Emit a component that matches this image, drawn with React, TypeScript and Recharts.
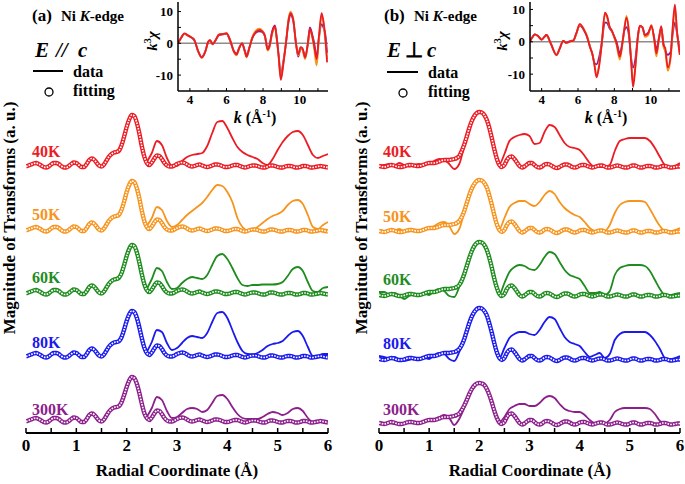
import React from 'react';
import { LineChart, Line, XAxis, YAxis, ReferenceLine } from 'recharts';

const SERIF = '"Liberation Serif", "Times New Roman", serif';
const TEMPS = ['40K', '50K', '60K', '80K', '300K'];
const COLORS = ['#ec1c24', '#f7941d', '#1e8c1e', '#1a1aee', '#8c1f8c'];

// radial grids (Å)
const R_FIT = Array.from({ length: 121 }, (_, i) => +(i * 0.05).toFixed(2));
const R_DATA_A = Array.from({ length: 37 }, (_, i) => +(2.4 + i * 0.1).toFixed(1));
const R_DATA_B = Array.from({ length: 61 }, (_, i) => +(i * 0.1).toFixed(1));
const R_TICKS = [0, 0.5, 1, 1.5, 2, 2.5, 3, 3.5, 4, 4.5, 5, 5.5, 6];
const K_TICKS = [4, 5, 6, 7, 8, 9, 10, 11];

// stacking offsets (a.u.)
const OFFSET_A = [265, 201, 138, 75, 10];
const OFFSET_B = [265, 200, 136, 72, 8];

// (a) E // c fitting: 0-1.80, peak 1.85-2.40 per temperature, 2.45-6.00
const FIT_A_LOW = [
  1.5, 2.5, 3.5, 4.5, 5, 4, 2.5, 1, 0.5, 1.5,
  3.5, 5, 5, 4, 2, 0.5, 0.5, 2, 4, 5.5,
  5, 3, 1, 1, 3.5, 7.5, 9.5, 8.5, 5.5, 2.5,
  1.5, 3.5, 7.5, 11.5, 14, 15.5, 16,
];
const FIT_A_PEAK_40 = [17.5, 23, 31.5, 41, 48.5, 53, 52, 45.5, 35, 22, 11.5, 5];
const FIT_A_PEAK_50 = [17.5, 22.5, 30.5, 40, 47, 51, 50, 44, 34, 21.5, 11, 5];
const FIT_A_PEAK_60 = [17.5, 22, 30, 39, 46, 50, 49, 43, 33, 21, 11, 5];
const FIT_A_PEAK_80 = [17, 21, 28.5, 37, 43.5, 47, 46, 40.5, 31, 20, 10.5, 5];
const FIT_A_PEAK_300 = [17, 21, 28, 36, 42.5, 46, 45, 39.5, 30.5, 19.5, 10, 5];
const FIT_A_TAIL = [
  3,
  5.5, 9.5, 12.5, 12, 9, 5, 2.5, 1.5, 1.5, 2.5,
  4, 5, 5.5, 5, 3.5, 2, 1.5, 2, 3, 3.5,
  2.5, 1.5, 1, 1.5, 2.5, 3.5, 3.5, 3, 2, 1,
  1, 1.5, 2.5, 3, 3, 2, 1, 0.5, 1, 2,
  2.5, 2.5, 2, 1, 0.5, 0.5, 1.5, 2.5, 2.5, 2,
  1, 0.5, 0.5, 1.5, 2, 2, 1.5, 0.5, 0.5, 1,
  2, 2, 1.5, 0.5, 0.5, 1, 1.5, 2, 1.5, 1,
  0.5,
];

// (a) data, 2.4-6.0 (below 2.4 it lies under the fit)
const DATA_A_40 = [6, 15, 27, 23, 10, 2, 2, 7, 11, 13, 14, 15, 22, 35, 46, 47, 40, 30, 21, 16, 13, 11, 9, 5, 3, 9, 18, 26, 32, 36, 37, 33, 23, 13, 10, 12, 14];
const DATA_A_50 = [6, 14, 25, 22, 11, 5, 7, 12, 17, 21, 25, 29, 35, 42, 47, 46, 40, 30, 14, 5, 2, 2, 5, 9, 13, 16, 18, 21, 27, 31, 32, 28, 17, 5, 3, 7, 10];
const DATA_A_60 = [6, 16, 27, 24, 13, 6, 7, 12, 16, 18, 17, 16, 20, 30, 39, 41, 36, 27, 17, 10, 9, 10, 10, 10.5, 10.5, 10.5, 11, 13, 19, 26, 28, 24, 13, 4, 3, 7, 8];
const DATA_A_80 = [6, 16, 28, 26, 15, 8, 10, 15, 20, 22, 21, 20, 25, 36, 45, 46, 40, 28, 16, 7, 4, 3.5, 5, 8, 12, 14, 15, 17, 22, 26, 27, 22, 11, 2, 2, 4, 4];
const DATA_A_300 = [6, 15, 26, 23, 12, 5, 6, 10, 14, 15, 14, 11, 13, 20, 27, 28, 24, 16, 9, 5, 4, 4, 4, 6, 9, 11, 10, 8, 10, 14, 15, 12, 5, 1, 1, 1, 1];

// (b) E ⊥ c fitting: 0-1.55, peak 1.60-2.40 per temperature, 2.45-6.00
const FIT_B_LOW = [
  2, 1.5, 1, 1.5, 2.5, 3, 2.5, 1.5, 1, 1,
  1.5, 2.5, 3, 3, 2.5, 2, 2, 2.5, 3.5, 4.5,
  5, 5, 5, 5.5, 6.5, 7.5, 8, 8, 8, 8.5,
  9, 10,
];
const FIT_B_PEAK_40 = [12, 17, 23.5, 31.5, 40, 47, 52, 55, 56, 55.5, 53, 48, 40, 29.5, 18.5, 9, 3];
const FIT_B_PEAK_50 = [12, 16, 22, 30, 38, 44.5, 49, 52, 53, 52.5, 50, 45.5, 37.5, 28, 17.5, 8.5, 3];
const FIT_B_PEAK_60 = [12, 16.5, 23, 31, 39, 46, 51, 54, 55, 54.5, 52, 47, 39, 29, 18, 9, 3];
const FIT_B_PEAK_80 = [12, 16, 22, 30, 38, 44.5, 49, 52, 53, 52.5, 50, 45.5, 37.5, 28, 17.5, 8.5, 3];
const FIT_B_PEAK_300 = [11.5, 15, 19.5, 25, 31, 36, 39.5, 41.5, 42, 41.5, 40, 36, 30, 22.5, 14, 7, 2.5];
const FIT_B_TAIL = [
  1,
  3, 8, 11, 11.5, 9, 5.5, 2, 0.5, 1.5, 3.5,
  5, 5, 3, 1, 0.5, 1.5, 3.5, 4, 3.5, 2,
  0.5, 0, 1, 2.5, 3.5, 3.5, 2.5, 1, 0.5, 1,
  2.5, 3, 3, 2, 1, 0.5, 1, 2, 2.5, 2.5,
  1.5, 0.5, 0.5, 1, 2, 2.5, 2, 1, 0.5, 0.5,
  1.5, 2.5, 2.5, 1.5, 0.5, 0.5, 1.5, 2, 2, 1.5,
  0.5, 0.5, 1, 2, 2, 1.5, 0.5, 0.5, 1, 1.5,
  1.5,
];

// (b) data, 0-6.0
const DATA_B_40 = [2, 3, 4, 2, 5, 3, 1.5, 3, 4, 3, 4, 7, 9, 8, 4, -1, 4, 22, 40, 52, 56, 53, 40, 18, 4, 14, 27, 31, 33, 34, 32, 24, 25, 36, 43, 41, 33, 25, 21, 20, 18, 12, 5, 1, 1, 1, 3, 17, 27, 29, 30, 30, 30, 30, 27, 20, 11, 3, 1, 2, 5];
const DATA_B_50 = [2, 2, 3, 2, 4, 2, 1.5, 3, 3, 3, 4, 7, 10, 11, 7, -1, 4, 21, 38, 49, 53, 50, 38, 17, 4, 15, 26, 30, 32, 32, 29, 27, 31, 38, 42, 39, 31, 25, 21, 18, 16, 11, 5, 2, 2, 2, 8, 20, 28, 31, 32, 32, 32, 31, 24, 15, 7, 2, 2, 3, 5];
const DATA_B_60 = [5, 5, 3, 4, 2, -2, 1, 3, 2, 3, 2, 6, 8, 6, 1, 0, 10, 23, 39, 51, 55, 52, 39, 18, 3, 14, 25, 30, 32, 31, 28, 27, 32, 40, 45, 43, 35, 27, 22, 20, 18, 11, 4, 4, 5, 2, 6, 22, 29, 31, 32, 32, 32, 31, 26, 17, 8, 2, 2, 3, 4];
const DATA_B_80 = [5, 4, 3, 4, 2, 0, 1, 3, 2, 3, 2, 6, 8, 7, 2, 0, 9, 22, 37, 49, 53, 50, 37, 17, 3, 13, 23, 27, 29, 29, 27, 26, 31, 39, 44, 42, 33, 24, 19, 17, 15, 9, 4, 6, 8, 3, 7, 21, 27, 29, 29, 29, 29, 29, 26, 20, 12, 3, 2, 3, 5];
const DATA_B_300 = [2, 2, 2, 1, 2, 1, 2, 2, 2, 3, 4, 6, 8, 10, 7, 0, 6, 17, 29, 38, 42, 40, 31, 14, 3, 8, 16, 19, 21, 21, 19, 19, 22, 27, 29, 27, 21, 16, 14, 13, 13, 10, 5, 2, 2, 2, 5, 13, 16, 17, 17, 17, 17, 17, 16, 11, 4, 1, 1, 1, 1];

// insets: k^3 chi vs k
const K_A = [3.35, 3.5, 3.7, 3.9, 4.1, 4.25, 4.45, 4.65, 4.85, 5.0, 5.1, 5.25, 5.4, 5.6, 5.8, 6.0, 6.2, 6.4, 6.55, 6.7, 6.85, 7.0, 7.1, 7.25, 7.4, 7.6, 7.8, 7.95, 8.1, 8.25, 8.35, 8.5, 8.65, 8.75, 8.85, 8.97, 9.1, 9.25, 9.4, 9.5, 9.65, 9.8, 9.92, 10.05, 10.15, 10.3, 10.45, 10.56, 10.7, 10.8, 10.93, 11.05, 11.2, 11.3, 11.4, 11.5];
const CHI_A_300 = [0, 1.5, 3, 2.4, 1.7, 0.8, -2.4, -4.3, -2.4, 0.4, 0.9, -0.2, 0.9, 2.6, 2.8, 3, 0.8, -2.4, -3.3, -1.3, 0, -2.2, -3.8, -1.3, 1.5, 3.3, 3.8, 3.6, 2.2, -1.5, -0.5, 3.8, 5.6, 1.6, -3.5, -10, -6, 0, 7, 9, 7, 0, -4.2, -1.8, -1.8, -4, 0, 5, 2.5, 0, -4.5, 1.5, 6, 5, 3, -3];
const CHI_A_50 = [0, 1.5, 3, 2.5, 1.8, 1, -2.5, -4.6, -2.5, 0.5, 1, -0.3, 1, 2.8, 2.9, 3.1, 1, -2.6, -3.8, -1.5, 0, -2.6, -4.4, -1.5, 1.8, 4, 4.6, 4, 2.4, -2.3, -1.2, 3, 5, 1.2, -4.2, -11, -6.5, 0, 8, 10, 7.5, 0, -3.8, -1.5, -2, -5, -0.5, 4, 1.5, -2, -7, 1, 8.5, 6.5, 1, -5];
const CHI_A_40 = [0, 1.5, 3.1, 2.5, 1.8, 1, -2.5, -4.5, -2.5, 0.5, 1, -0.3, 1, 2.8, 2.9, 3.2, 1, -2.5, -3.5, -1.5, 0, -2.5, -4.2, -1.5, 1.5, 3.5, 4.2, 3.8, 2.4, -2, -1, 3.5, 5.3, 1.5, -4, -11.5, -7, 0, 7.5, 9.5, 7.5, 0, -3.5, -1.2, -1.5, -4.5, 0, 4.5, 2, -1, -5, 2, 9.5, 7, 2, -6];

const K_B = [3.35, 3.5, 3.63, 3.8, 4.0, 4.15, 4.27, 4.5, 4.82, 5.0, 5.19, 5.35, 5.46, 5.6, 5.74, 5.9, 6.1, 6.25, 6.38, 6.5, 6.65, 6.8, 6.9, 7.02, 7.15, 7.3, 7.48, 7.6, 7.75, 7.85, 8.0, 8.12, 8.3, 8.45, 8.55, 8.67, 8.8, 8.92, 9.03, 9.15, 9.3, 9.4, 9.55, 9.68, 9.85, 10.04, 10.2, 10.31, 10.45, 10.58, 10.7, 10.8, 10.94, 11.1, 11.2, 11.33, 11.45, 11.6];
const CHI_B_300 = [0, 1.5, 2.3, 1.8, 0.7, 1.5, 2.1, -0.5, -4, -2, 0.3, -0.3, 0, 0.3, 0.5, 2.5, 5, 4.3, 3, 1.5, -1.3, -4, -6.5, -7, -5, -0.5, 6, 5.8, 4, 3.3, 1.5, 0, -3.5, 0, 3.5, 4.5, 2, -5, -8, -5.5, 2, 4.8, 4.3, 2.2, 2.8, 4.6, 1, -2.5, 1.2, 4, -0.5, -2.8, -4, -3, 2, 6, 2.5, -3];
const CHI_B_50 = [0, 1.5, 2.3, 1.8, 0.7, 1.5, 2.1, -0.5, -4.1, -2, 0.3, -0.3, -0.2, 0.2, 0.3, 2.3, 5.2, 4.6, 3.3, 1.8, -1.3, -4, -7, -10.5, -7.5, -1, 8.5, 7.5, 4.5, 3.6, 1.2, -1, -5.5, -0.5, 4.2, 8, 3.5, -5.5, -13, -8, 1.5, 4.8, 4.5, 1.5, 2, 5.2, 0, -4.5, 0.5, 4.5, -1.5, -3, -9, -5, 3, 10, 2.5, -4];
const CHI_B_40 = [0, 1.5, 2.3, 1.8, 0.7, 1.5, 2.1, -0.5, -4.1, -2, 0.3, -0.3, -0.2, 0.2, 0.3, 2.5, 5.5, 4.5, 3.1, 1.5, -1.5, -4, -7, -11, -8, -1, 9, 8, 4.5, 3.6, 1.5, -0.5, -4.6, 0, 4, 7.5, 3, -6, -14, -8, 2, 5, 4.5, 2, 2.5, 5, 0.5, -3.6, 1, 4.8, -1, -2, -8, -4, 4, 11.5, 3, -4];

const FIT_A = [FIT_A_PEAK_40, FIT_A_PEAK_50, FIT_A_PEAK_60, FIT_A_PEAK_80, FIT_A_PEAK_300].map(p => [...FIT_A_LOW, ...p, ...FIT_A_TAIL]);
const FIT_B = [FIT_B_PEAK_40, FIT_B_PEAK_50, FIT_B_PEAK_60, FIT_B_PEAK_80, FIT_B_PEAK_300].map(p => [...FIT_B_LOW, ...p, ...FIT_B_TAIL]);
const DATA_A = [DATA_A_40, DATA_A_50, DATA_A_60, DATA_A_80, DATA_A_300];
const DATA_B = [DATA_B_40, DATA_B_50, DATA_B_60, DATA_B_80, DATA_B_300];

const toRows = (xs: number[], ys: number[], off: number) => xs.map((r, i) => ({ r, v: ys[i] + off }));

const FRAME = { stroke: '#000', strokeWidth: 2 };
const TXT = { fontFamily: SERIF, fontWeight: 700 as const };

type PanelProps = {
  left: number; width: number; ml: number; mr: number;
  fits: number[][]; data: number[][]; dataR: number[]; offsets: number[];
};

const Panel = ({ left, width, ml, mr, fits, data, dataR, offsets }: PanelProps) => {
  const lines: React.ReactNode[] = [];
  // measured data first, fitting circles drawn over it
  data.forEach((ys, i) => {
    lines.push(
      <Line key={`d${i}`} data={toRows(dataR, ys, offsets[i])} dataKey="v" type="monotone"
        stroke={COLORS[i]} strokeWidth={1.8} dot={false} activeDot={false} isAnimationActive={false} />
    );
  });
  fits.forEach((ys, i) => {
    const rows = toRows(R_FIT, ys, offsets[i]);
    lines.push(
      <Line key={`fo${i}`} data={rows} dataKey="v" type="monotone"
        stroke={COLORS[i]} strokeWidth={4.4} dot={false} activeDot={false} isAnimationActive={false} />
    );
    lines.push(
      <Line key={`fi${i}`} data={rows} dataKey="v" type="monotone"
        stroke="#fff" strokeWidth={1.7} strokeDasharray="1.6 1.2" dot={false} activeDot={false} isAnimationActive={false} />
    );
  });
  return (
    <div style={{ position: 'absolute', left, top: 0 }}>
      <LineChart width={width} height={484} margin={{ top: 3, right: mr, left: ml, bottom: 21 }}>
        <XAxis type="number" dataKey="r" domain={[0, 6]} ticks={R_TICKS} interval={0} allowDataOverflow
          height={30} tickSize={-5} tickMargin={11}
          tickFormatter={(v: number) => (Number.isInteger(v) ? String(v) : '')}
          axisLine={FRAME} tickLine={{ stroke: '#000', strokeWidth: 1.5 }}
          tick={{ fill: '#000', fontSize: 17, ...TXT }} />
        <XAxis xAxisId="top" orientation="top" type="number" domain={[0, 6]} height={0}
          tick={false} tickLine={false} axisLine={FRAME} />
        <YAxis type="number" domain={[0, 430]} allowDataOverflow width={0} tick={false} tickLine={false} axisLine={FRAME} />
        <YAxis yAxisId="right" orientation="right" type="number" domain={[0, 430]} width={0}
          tick={false} tickLine={false} axisLine={FRAME} />
        {lines}
      </LineChart>
    </div>
  );
};

type InsetProps = { left: number; k: number[]; series: number[][]; colors: string[]; xDomain: number[]; yDomain: number[] };

const Inset = ({ left, k, series, colors, xDomain, yDomain }: InsetProps) => (
  <div style={{ position: 'absolute', left, top: 0 }}>
    <LineChart width={190} height={125} margin={{ top: 2, right: 2, left: 8, bottom: 14 }}>
      <XAxis type="number" dataKey="k" domain={xDomain} ticks={K_TICKS} interval={0} allowDataOverflow
        height={20} tickSize={-3} tickMargin={7}
        tickFormatter={(v: number) => (v % 2 === 0 ? String(v) : '')}
        axisLine={{ stroke: '#000', strokeWidth: 1.5 }} tickLine={{ stroke: '#000' }}
        tick={{ fill: '#000', fontSize: 13, ...TXT }} />
      <XAxis xAxisId="top" orientation="top" type="number" domain={xDomain} height={0}
        tick={false} tickLine={false} axisLine={{ stroke: '#000', strokeWidth: 1.5 }} />
      <YAxis type="number" domain={yDomain} ticks={[-10, -5, 0, 5, 10]} interval={0} allowDataOverflow
        width={30} tickSize={-3} tickMargin={8}
        tickFormatter={(v: number) => (v % 10 === 0 ? String(v) : '')}
        axisLine={{ stroke: '#000', strokeWidth: 1.5 }} tickLine={{ stroke: '#000' }}
        tick={{ fill: '#000', fontSize: 13, ...TXT }} />
      <YAxis yAxisId="right" orientation="right" type="number" domain={yDomain} width={0}
        tick={false} tickLine={false} axisLine={{ stroke: '#000', strokeWidth: 1.5 }} />
      <ReferenceLine y={0} stroke="#8c8c8c" strokeWidth={1.5} />
      {series.map((ys, i) => (
        <Line key={i} data={k.map((kk, j) => ({ k: kk, v: ys[j] }))} dataKey="v" type="monotone"
          stroke={colors[i]} strokeWidth={1.8} dot={false} activeDot={false} isAnimationActive={false} />
      ))}
    </LineChart>
  </div>
);

const TEMP_Y_A = [157, 220, 283, 348, 415];
const TEMP_Y_B = [157, 222, 285, 349, 415];

const App = () => (
  <div style={{ position: 'absolute', left: 0, top: 0, width: 685, height: 484, background: '#fff', overflow: 'hidden' }}>
    <Panel left={0} width={340} ml={26} mr={12} fits={FIT_A} data={DATA_A} dataR={R_DATA_A} offsets={OFFSET_A} />
    <Panel left={340} width={345} ml={39} mr={5} fits={FIT_B} data={DATA_B} dataR={R_DATA_B} offsets={OFFSET_B} />
    <Inset left={140} k={K_A} series={[CHI_A_300, CHI_A_50, CHI_A_40]} colors={[COLORS[4], COLORS[1], COLORS[0]]}
      xDomain={[3.35, 11.55]} yDomain={[-15, 13]} />
    <Inset left={492} k={K_B} series={[CHI_B_300, CHI_B_50, CHI_B_40]} colors={[COLORS[4], COLORS[1], COLORS[0]]}
      xDomain={[3.36, 11.61]} yDomain={[-15.2, 12.3]} />
    <svg width={685} height={484} style={{ position: 'absolute', left: 0, top: 0, pointerEvents: 'none' }}>
      {/* panel (a) */}
      <text x={32} y={21} fontSize={17} {...TXT}>(a)</text>
      <text x={61} y={21} fontSize={15} {...TXT}>Ni <tspan fontStyle="italic">K</tspan>-edge</text>
      <text y={57} fontSize={21} fontStyle="italic" {...TXT}>
        <tspan x={35}>E</tspan><tspan x={56}>//</tspan><tspan x={78}>c</tspan>
      </text>
      <line x1={33} x2={63} y1={71} y2={71} stroke="#000" strokeWidth={2} />
      <text x={73} y={77} fontSize={16} {...TXT}>data</text>
      <circle cx={49} cy={92} r={4} fill="none" stroke="#000" strokeWidth={1.3} />
      <text x={73} y={96} fontSize={16} {...TXT}>fitting</text>
      {TEMPS.map((t, i) => (
        <text key={`ta${i}`} x={32} y={TEMP_Y_A[i]} fontSize={16} fill={COLORS[i]} {...TXT}>{t}</text>
      ))}
      <text x={177} y={476} fontSize={17} textAnchor="middle" {...TXT}>Radial Coordinate (Å)</text>
      <text x={15} y={218} fontSize={17} textAnchor="middle" transform="rotate(-90 15 218)" {...TXT}>Magnitude of Transforms (a. u.)</text>
      <text x={157} y={41} fontSize={15} textAnchor="middle" transform="rotate(-90 157 41)" {...TXT}>
        <tspan fontStyle="italic">k</tspan><tspan dy={-6} fontSize={10}>3</tspan><tspan dy={6} fontStyle="italic">χ</tspan>
      </text>
      <text x={255} y={123} fontSize={16} textAnchor="middle" {...TXT}>
        <tspan fontStyle="italic">k</tspan> (Å<tspan dy={-6} fontSize={10}>-1</tspan><tspan dy={6}>)</tspan>
      </text>

      {/* panel (b) */}
      <text x={384} y={21} fontSize={17} {...TXT}>(b)</text>
      <text x={414} y={21} fontSize={15} {...TXT}>Ni <tspan fontStyle="italic">K</tspan>-edge</text>
      <text y={57} fontSize={21} fontStyle="italic" {...TXT}>
        <tspan x={387}>E</tspan><tspan x={405} fontStyle="normal">⊥</tspan><tspan x={427}>c</tspan>
      </text>
      <line x1={387} x2={418} y1={72} y2={72} stroke="#000" strokeWidth={2} />
      <text x={428} y={78} fontSize={16} {...TXT}>data</text>
      <circle cx={403} cy={93} r={4} fill="none" stroke="#000" strokeWidth={1.3} />
      <text x={428} y={97} fontSize={16} {...TXT}>fitting</text>
      {TEMPS.map((t, i) => (
        <text key={`tb${i}`} x={383} y={TEMP_Y_B[i]} fontSize={16} fill={COLORS[i]} {...TXT}>{t}</text>
      ))}
      <text x={530} y={476} fontSize={17} textAnchor="middle" {...TXT}>Radial Coordinate (Å)</text>
      <text x={367} y={218} fontSize={17} textAnchor="middle" transform="rotate(-90 367 218)" {...TXT}>Magnitude of Transforms (a. u.)</text>
      <text x={507} y={41} fontSize={15} textAnchor="middle" transform="rotate(-90 507 41)" {...TXT}>
        <tspan fontStyle="italic">k</tspan><tspan dy={-6} fontSize={10}>3</tspan><tspan dy={6} fontStyle="italic">χ</tspan>
      </text>
      <text x={606} y={123} fontSize={16} textAnchor="middle" {...TXT}>
        <tspan fontStyle="italic">k</tspan> (Å<tspan dy={-6} fontSize={10}>-1</tspan><tspan dy={6}>)</tspan>
      </text>
    </svg>
  </div>
);

export default App;
